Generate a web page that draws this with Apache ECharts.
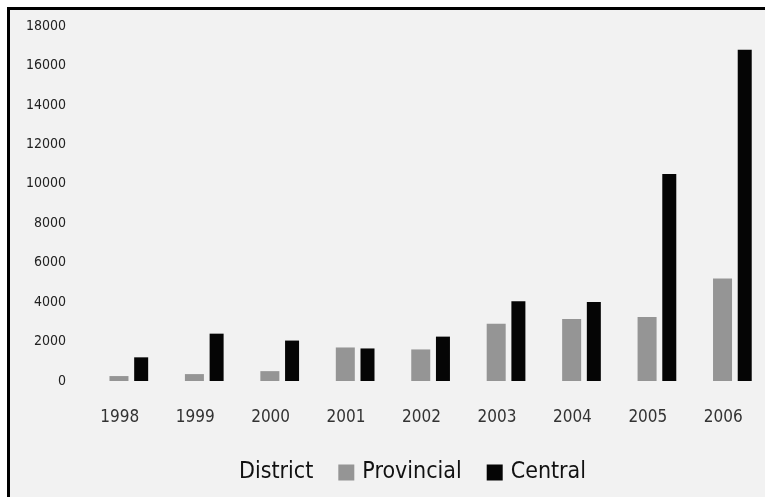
<!DOCTYPE html>
<html>
<head>
<meta charset="utf-8">
<script src="https://cdn.jsdelivr.net/npm/echarts@6/dist/echarts.min.js"></script>
<style>
  html, body { margin: 0; padding: 0; background: #ffffff; }
  #frame {
    position: absolute;
    left: 7px;
    top: 7px;
    width: 758px;
    height: 490px;
    border-top: 3px solid #000;
    border-left: 3px solid #000;
    background: #f2f2f2;
  }
  #chart { width: 758px; height: 490px; }
</style>
</head>
<body>
<div id="frame"><div id="chart"></div></div>
<script>
const years = ['1998', '1999', '2000', '2001', '2002', '2003', '2004', '2005', '2006'];
const district = [0, 0, 0, 0, 0, 0, 0, 0, 0];
const provincial = [250, 350, 500, 1700, 1600, 2900, 3150, 3250, 5200];
const central = [1200, 2400, 2050, 1650, 2250, 4050, 4000, 10500, 16800];

const font = '"DejaVu Sans Condensed", "DejaVu Sans", sans-serif';

function renderChart() {
  const chart = echarts.init(document.getElementById('chart'), null, {
    renderer: 'canvas'
  });
  const option = {
    backgroundColor: '#f2f2f2',
    animation: false,
    textStyle: { fontFamily: font },
    grid: {
      left: 72,
      top: 16,
      width: 679,
      bottom: 119
    },
    legend: {
      data: ['District', 'Provincial', 'Central'],
      icon: 'rect',
      left: 200,
      top: 446,
      itemWidth: 16,
      itemHeight: 16,
      itemGap: 25,
      textStyle: {
        fontFamily: font,
        fontSize: 23,
        color: '#111',
        padding: [0, 0, 0, 3]
      }
    },
    xAxis: {
      type: 'category',
      data: years,
      axisLine: { show: false },
      axisTick: { show: false },
      axisLabel: {
        margin: 28,
        fontFamily: font,
        fontSize: 17,
        color: '#333'
      }
    },
    yAxis: {
      type: 'value',
      min: 0,
      max: 18000,
      interval: 2000,
      splitLine: { show: false },
      axisLine: { show: false },
      axisTick: { show: false },
      axisLabel: {
        margin: 16,
        fontFamily: font,
        fontSize: 14,
        color: '#222',
        formatter: (v) => String(v)
      }
    },
    series: [
      {
        name: 'District',
        type: 'bar',
        barWidth: 14,
        barGap: '30%',
        itemStyle: { color: '#f2f2f2' },
        data: district
      },
      {
        name: 'Provincial',
        type: 'bar',
        barWidth: 19,
        barGap: '30%',
        itemStyle: { color: '#959595' },
        data: provincial
      },
      {
        name: 'Central',
        type: 'bar',
        barWidth: 14,
        barGap: '30%',
        itemStyle: { color: '#050505' },
        data: central
      }
    ]
  };
  chart.setOption(option);
  return chart;
}

renderChart();
</script>
</body>
</html>
